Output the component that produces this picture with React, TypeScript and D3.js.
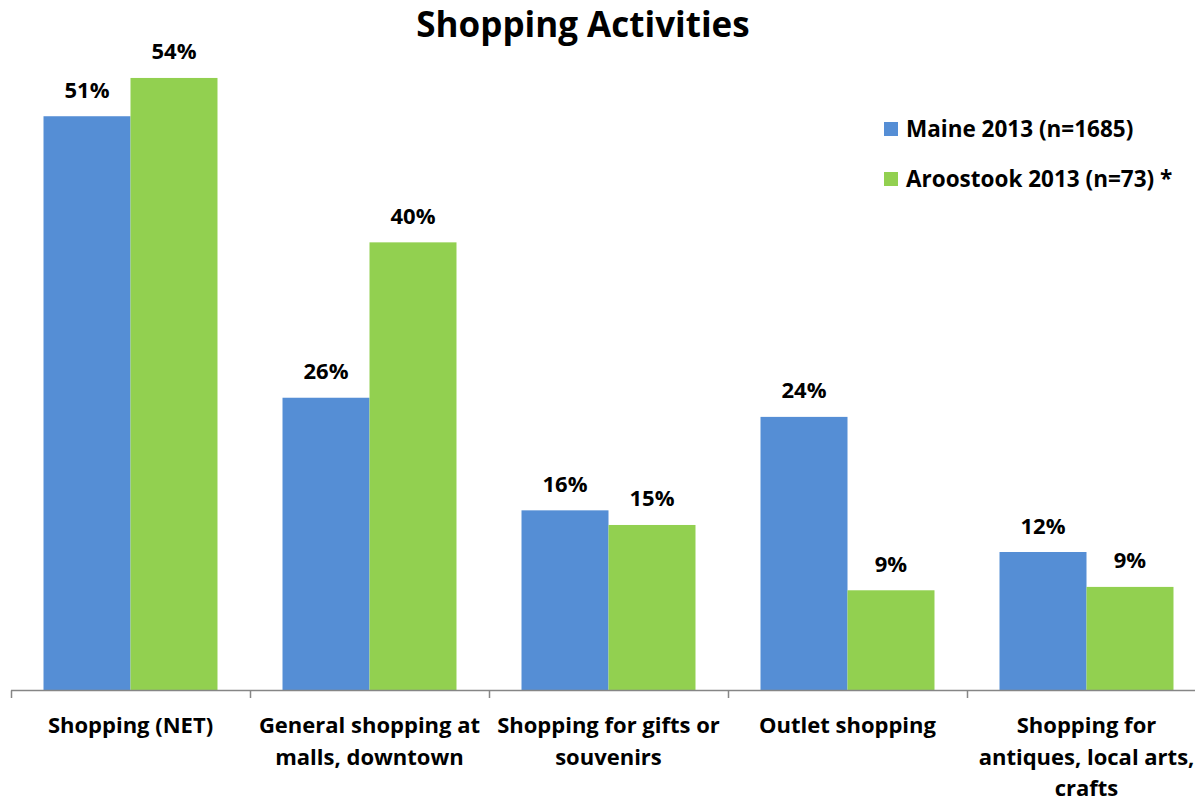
import React from "react";
import * as d3 from "d3";

const title = "Shopping Activities";
const categories = [
  "Shopping (NET)",
  "General shopping at malls, downtown",
  "Shopping for gifts or souvenirs",
  "Outlet shopping",
  "Shopping for antiques, local arts, crafts",
];
const categoryLines = [
  ["Shopping (NET)"],
  ["General shopping at", "malls, downtown"],
  ["Shopping for gifts or", "souvenirs"],
  ["Outlet shopping"],
  ["Shopping for", "antiques, local arts,", "crafts"],
];
const seriesNames = ["Maine 2013 (n=1685)", "Aroostook 2013 (n=73)"];
const legendSuffix = ["", " *"];
const maineValues = [51.0, 26.0, 16.0, 24.3, 12.3];
const aroostookValues = [54.4, 39.8, 14.7, 8.9, 9.2];
const colors = ["#558ED5", "#92D050"];

const W = 1195;
const H = 802;
const FONT = "'Open Sans', 'Noto Sans', sans-serif";

export default function App() {
  const baseY = 690.5;
  const x = d3.scaleBand<string>().domain(categories).range([11, 11 + 239 * 5]).padding(0);
  const inner = d3
    .scaleBand<string>()
    .domain(seriesNames)
    .range([0, x.bandwidth()])
    .paddingInner(0)
    .paddingOuter(0.3736);
  const y = d3.scaleLinear().domain([0, 60]).range([baseY, baseY - 60 * 11.26]);
  const series = [maineValues, aroostookValues];
  const fmt = (v: number) => `${Math.round(v)}%`;

  return (
    <svg
      width={W}
      height={H}
      style={{ position: "absolute", left: 0, top: 0, background: "#fff" }}
      fontFamily={FONT}
    >
      <text x={583} y={37} textAnchor="middle" fontSize={35} fontWeight="bold" fill="#000">
        {title}
      </text>

      {categories.map((c, ci) => (
        <g key={c}>
          {seriesNames.map((s, si) => {
            const v = series[si][ci];
            const bx = (x(c) ?? 0) + (inner(s) ?? 0);
            const bw = inner.bandwidth();
            return (
              <g key={s}>
                <rect x={bx} y={y(v)} width={bw} height={baseY - y(v)} fill={colors[si]} />
                <text
                  x={bx + bw / 2}
                  y={y(v) - 18.5}
                  textAnchor="middle"
                  fontSize={22}
                  fontWeight="bold"
                  fill="#000"
                >
                  {fmt(v)}
                </text>
              </g>
            );
          })}
        </g>
      ))}

      {/* axis */}
      <line x1={11} x2={W} y1={baseY} y2={baseY} stroke="#868686" strokeWidth={1.5} />
      {categories.map((c) => (
        <line
          key={"t" + c}
          x1={Math.round(x(c) ?? 0) + 0.5}
          x2={Math.round(x(c) ?? 0) + 0.5}
          y1={baseY}
          y2={baseY + 7.5}
          stroke="#868686"
          strokeWidth={1.5}
        />
      ))}
      {categories.map((c, ci) => (
        <text
          key={"l" + c}
          x={(x(c) ?? 0) + x.bandwidth() / 2}
          textAnchor="middle"
          fontSize={22}
          fontWeight="bold"
          fill="#000"
        >
          {categoryLines[ci].map((ln, li) => (
            <tspan key={li} x={(x(c) ?? 0) + x.bandwidth() / 2} y={733 + li * 31.5}>
              {ln}
            </tspan>
          ))}
        </text>
      ))}

      {/* legend */}
      {seriesNames.map((s, si) => (
        <g key={"lg" + s} transform={`translate(884, ${122 + si * 50})`}>
          <rect x={0} y={0} width={14} height={14} fill={colors[si]} />
          <text x={22} y={15} fontSize={22.5} fontWeight="bold" fill="#000">
            {s + legendSuffix[si]}
          </text>
        </g>
      ))}
    </svg>
  );
}
